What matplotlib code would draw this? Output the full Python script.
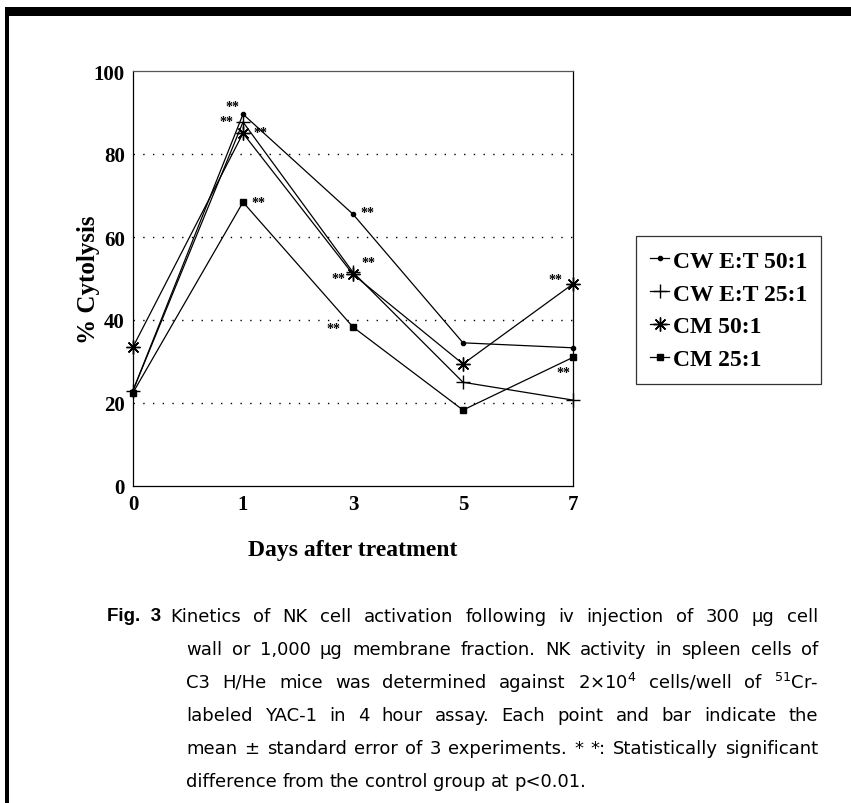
import matplotlib
matplotlib.use("Agg")
import matplotlib.pyplot as plt
from matplotlib.patches import Rectangle

plt.rcParams['font.family'] = ['Liberation Serif', 'DejaVu Serif']
plt.rcParams['mathtext.fontset'] = 'dejavusans'

# data
days = ["0", "1", "3", "5", "7"]
cw50 = [23.0, 89.6, 65.5, 34.5, 33.3]
cw25 = [23.0, 87.7, 51.5, 25.0, 20.7]
cm50 = [33.5, 85.0, 51.0, 29.4, 48.7]
cm25 = [22.5, 68.4, 38.3, 18.3, 31.0]
labels = ["CW E:T 50:1", "CW E:T 25:1", "CM 50:1", "CM 25:1"]

# ** marks: series, day index, offset in pixels
sig = [
    (0, 1, -11, 8), (1, 1, -17, 1), (2, 1, 17, 1), (3, 1, 15, 0),
    (0, 2, 14, 2), (1, 2, 15, 10), (2, 2, -15, -4), (3, 2, -20, -1),
    (2, 4, -18, 4), (3, 4, -10, -15),
]

W, H = 851, 804
fig = plt.figure(figsize=(W / 100, H / 100), dpi=100)
ax = fig.add_axes([133 / W, 1 - 487 / H, 440 / W, 415 / H])

x = list(range(len(days)))
series = [cw50, cw25, cm50, cm25]
styles = [
    dict(marker='o', ms=3),
    dict(marker='+', ms=10, mew=1),
    dict(marker=(8, 2, 0), ms=10, mew=1),
    dict(marker='s', ms=5),
]
for s, st, lab in zip(series, styles, labels):
    ax.plot(x, s, color='black', lw=0.9, label=lab, clip_on=False, **st)

for si, di, dx, dy in sig:
    ax.annotate("**", xy=(di, series[si][di]), xytext=(dx, dy),
                textcoords='offset pixels', ha='center', va='center',
                fontsize=10, fontweight='bold')

ax.set_xlim(0, 4)
ax.set_ylim(0, 100)
ax.set_xticks(x)
ax.set_xticklabels(days)
ax.set_yticks([0, 20, 40, 60, 80, 100])
for y in [20, 40, 60, 80]:
    ax.axhline(y, color='black', lw=1, ls=(0, (1, 6)))
ax.tick_params(length=0, labelsize=15, pad=6)
for t in ax.get_xticklabels() + ax.get_yticklabels():
    t.set_fontweight('bold')
for sp in ax.spines.values():
    sp.set_linewidth(0.9)
ax.spines['top'].set_color('#555555')

ax.set_xlabel("Days after treatment", fontsize=17, fontweight='bold', labelpad=18)
ax.set_ylabel("% Cytolysis", fontsize=18, fontweight='bold')
ax.yaxis.set_label_coords((100 - 133) / 440, 1 - (280 - 72) / 415)

leg = fig.legend(loc='upper left', bbox_to_anchor=(636 / W, 1 - 237 / H),
                 borderaxespad=0, frameon=True, fancybox=False, edgecolor='black',
                 handlelength=0.8, handletextpad=0.15, labelspacing=0.48,
                 borderpad=0.6, prop=dict(size=17, weight='bold'))
leg.get_frame().set_linewidth(0.9)

# border of the page
fig.add_artist(Rectangle((5 / W, 1 - 17 / H), 1, 9 / H, transform=fig.transFigure,
                         color='black', lw=0))
fig.add_artist(Rectangle((5 / W, 0), 4 / W, 1 - 10 / H, transform=fig.transFigure,
                         color='black', lw=0))

# caption, justified between left edge and x = 818 px
cap = [
    (170, "Kinetics of NK cell activation following iv injection of 300 μg cell"),
    (186, "wall or 1,000 μg membrane fraction. NK activity in spleen cells of"),
    (186, r"C3 H/He mice was determined against 2$\times$10$^4$ cells/well of $^{51}$Cr-"),
    (186, "labeled YAC-1 in 4 hour assay. Each point and bar indicate the"),
    (186, "mean ± standard error of 3 experiments. * *: Statistically significant"),
    (186, "difference from the control group at p<0.01."),
]
right = 818
fig.text(107 / W, 1 - 617 / H, "Fig.  3", fontsize=13.5, fontweight='bold',
         family='Liberation Sans', va='center')
fig.canvas.draw()
r = fig.canvas.get_renderer()
for i, (xp, line) in enumerate(cap):
    yy = 1 - (617 + 33 * i) / H
    words = line.split(" ")
    texts = [fig.text(0, yy, w, fontsize=13, family='DejaVu Sans', va='center')
             for w in words]
    widths = [t.get_window_extent(r).width for t in texts]
    if i < len(cap) - 1:
        gap = (right - xp - sum(widths)) / (len(words) - 1)
    else:
        gap = 5.5
    pos = xp
    for t, w in zip(texts, widths):
        t.set_x(pos / W)
        pos += w + gap

fig.savefig("out.png", dpi=100)
